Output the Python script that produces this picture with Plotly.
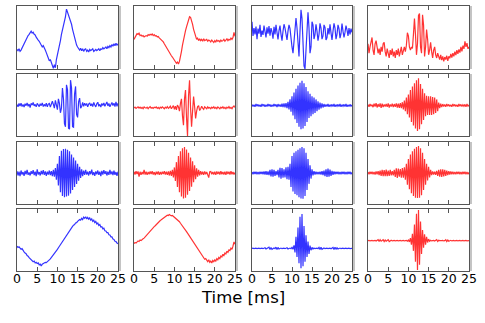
import plotly.graph_objects as go
from plotly.subplots import make_subplots

# sampling of every trace (ms)
T_START = 0.0
T_STEP = 0.25
TICKS = [0, 5, 10, 15, 20, 25]
TICK_TEXT = ["0", "5", "10", "15", "20", "25"]

# traces, amplitude normalised to the panel height (-1 bottom, 1 top)
wave_r1c1 = [-0.38, -0.42, -0.36, -0.44, -0.40, -0.33, -0.26, -0.20, -0.14, -0.08, -0.02, 0.06,
             0.10, 0.16, 0.20, 0.14, 0.17, 0.10, 0.08, 0.01, -0.02, -0.08, -0.12, -0.20,
             -0.22, -0.30, -0.26, -0.36, -0.40, -0.48, -0.58, -0.66, -0.74, -0.70, -0.80, -0.90,
             -0.98, -0.86, -0.96, -0.70, -0.56, -0.44, -0.30, -0.10, 0.10, 0.24, 0.34, 0.50,
             0.66, 0.90, 0.80, 0.70, 0.64, 0.54, 0.42, 0.26, 0.12, -0.02, -0.14, -0.24,
             -0.30, -0.36, -0.40, -0.34, -0.42, -0.36, -0.44, -0.38, -0.36, -0.44, -0.40, -0.46,
             -0.38, -0.42, -0.40, -0.36, -0.44, -0.40, -0.38, -0.42, -0.40, -0.36, -0.42, -0.36,
             -0.38, -0.32, -0.36, -0.34, -0.30, -0.36, -0.28, -0.32, -0.26, -0.30, -0.22, -0.28,
             -0.20, -0.26, -0.18, -0.24, -0.20]
wave_r1c2 = [-0.06, 0.02, 0.08, 0.12, 0.10, 0.14, 0.06, 0.08, 0.04, 0.06, 0.02, 0.05,
             0.06, 0.04, 0.09, 0.07, 0.10, 0.08, 0.11, 0.06, 0.09, 0.05, 0.06, 0.02,
             0.03, -0.01, -0.04, -0.07, -0.10, -0.14, -0.20, -0.26, -0.30, -0.36, -0.42, -0.48,
             -0.52, -0.58, -0.62, -0.68, -0.72, -0.78, -0.82, -0.78, -0.84, -0.76, -0.64, -0.44,
             -0.24, -0.06, 0.10, 0.22, 0.34, 0.48, 0.60, 0.66, 0.64, 0.56, 0.42, 0.26,
             0.12, 0.00, -0.06, -0.02, -0.10, -0.04, -0.10, -0.06, -0.12, -0.04, -0.10, -0.08,
             -0.06, -0.12, -0.08, -0.10, -0.14, -0.08, -0.12, -0.16, -0.10, -0.14, -0.08, -0.12,
             -0.10, -0.14, -0.08, -0.12, -0.10, -0.06, -0.12, -0.08, -0.04, -0.10, -0.06, -0.08,
             -0.02, -0.06, 0.00, 0.16, 0.04]
wave_r1c3 = [0.50, 0.05, 0.30, 0.10, 0.35, -0.05, 0.28, 0.12, 0.40, 0.02, 0.22, 0.08,
             0.38, 0.15, 0.00, 0.32, 0.12, 0.36, 0.06, 0.30, 0.18, -0.04, 0.34, 0.10,
             0.40, 0.16, -0.06, 0.22, 0.38, 0.10, -0.10, 0.20, 0.42, 0.30, 0.02, -0.08,
             0.20, 0.40, 0.28, -0.10, -0.30, -0.50, -0.20, 0.30, 0.62, 0.30, -0.30, -0.60,
             0.20, 0.88, 0.60, -0.40, -0.90, -1.00, -0.20, 0.55, 0.80, 0.30, -0.50, -0.30,
             0.50, 0.40, -0.05, 0.10, 0.42, 0.20, -0.10, 0.10, 0.45, 0.30, -0.05, 0.05,
             0.40, 0.32, -0.08, 0.00, 0.30, 0.10, 0.42, 0.15, -0.08, 0.20, 0.45, 0.30,
             -0.05, 0.10, 0.40, 0.28, -0.02, 0.12, 0.44, 0.20, 0.00, 0.16, 0.38, 0.24,
             0.05, 0.30, 0.10, 0.28, 0.16]
wave_r1c4 = [-0.20, -0.50, -0.30, -0.10, 0.00, -0.40, -0.55, -0.20, -0.10, -0.30, -0.50, -0.35,
             -0.55, -0.30, -0.45, -0.20, -0.15, -0.45, -0.60, -0.35, -0.50, -0.65, -0.40, -0.55,
             -0.35, -0.60, -0.45, -0.65, -0.40, -0.55, -0.35, -0.60, -0.45, -0.30, -0.55, -0.35,
             -0.30, -0.45, -0.25, 0.15, 0.05, -0.30, -0.40, -0.30, -0.35, 0.10, 0.60, 0.10,
             -0.55, -0.20, 0.70, 0.76, -0.30, -0.50, 0.72, 0.40, -0.60, -0.30, 0.25, -0.05,
             -0.55, -0.40, -0.15, -0.45, -0.65, -0.40, -0.30, -0.55, -0.65, -0.50, -0.60, -0.70,
             -0.55, -0.72, -0.60, -0.76, -0.62, -0.70, -0.58, -0.74, -0.60, -0.66, -0.52, -0.64,
             -0.50, -0.60, -0.45, -0.56, -0.40, -0.52, -0.38, -0.48, -0.30, -0.44, -0.26, -0.36,
             -0.12, -0.30, -0.18, -0.36, -0.30]

wave_r2c1 = [0.02, -0.06, 0.05, -0.03, 0.06, -0.05, 0.02, -0.07, 0.04, -0.02, 0.07, -0.04,
             0.03, -0.08, 0.05, 0.00, 0.08, -0.03, 0.02, -0.06, 0.05, 0.01, -0.05, 0.04,
             -0.02, 0.07, -0.05, 0.02, -0.04, 0.06, -0.06, 0.03, 0.05, -0.07, 0.02, 0.12,
             0.02, -0.10, 0.15, -0.05, -0.15, 0.20, 0.05, -0.25, -0.10, 0.55, 0.20, -0.60,
             -0.70, 0.65, 0.50, -0.75, -0.78, 0.80, 0.55, -0.70, -0.72, 0.35, 0.60, -0.30,
             -0.40, 0.10, 0.22, -0.10, -0.05, 0.08, -0.04, 0.06, -0.02, 0.05, -0.06, 0.03,
             0.07, -0.03, 0.04, -0.05, 0.08, 0.00, -0.06, 0.04, 0.09, -0.04, 0.02, -0.07,
             0.05, -0.02, 0.07, -0.04, 0.03, 0.10, -0.03, 0.05, -0.06, 0.02, 0.08, -0.02,
             0.06, -0.05, 0.10, -0.04, 0.06]
wave_r2c2 = [-0.10, -0.07, -0.11, -0.08, -0.06, -0.10, -0.07, -0.11, -0.08, -0.12, -0.06, -0.09,
             -0.10, -0.07, -0.12, -0.08, -0.05, -0.10, -0.08, -0.11, -0.07, -0.09, -0.06, -0.11,
             -0.08, -0.12, -0.07, -0.10, -0.06, -0.09, -0.12, -0.07, -0.10, -0.05, -0.11, -0.08,
             -0.04, -0.12, -0.06, -0.02, -0.14, -0.04, -0.16, 0.00, -0.06, -0.20, 0.05, 0.20,
             -0.35, -0.65, 0.20, 0.48, -0.40, -1.00, 0.30, 0.80, -0.10, -0.70, -0.20, 0.27,
             -0.05, -0.43, -0.20, -0.05, -0.02, -0.18, -0.12, -0.04, -0.10, -0.14, -0.06, -0.10,
             -0.12, -0.06, -0.10, -0.08, -0.12, -0.07, -0.10, -0.06, -0.11, -0.08, -0.12, -0.06,
             -0.09, -0.12, -0.07, -0.10, -0.06, -0.11, -0.08, -0.12, -0.07, -0.10, -0.05, -0.11,
             -0.08, -0.12, -0.06, -0.03, -0.08]
wave_r2c3 = [0.02, -0.05, 0.01, -0.06, 0.03, -0.04, 0.02, -0.05, 0.01, -0.06, 0.03, -0.03,
             0.02, -0.06, 0.01, -0.05, 0.03, -0.04, 0.02, -0.06, 0.01, -0.05, 0.03, -0.04,
             0.02, -0.07, 0.03, -0.05, 0.02, -0.06, 0.04, -0.07, 0.05, -0.08, 0.06, -0.10,
             0.10, -0.14, 0.18, -0.22, 0.28, -0.34, 0.40, -0.46, 0.52, -0.58, 0.63, -0.70,
             0.72, -0.78, 0.78, -0.76, 0.70, -0.68, 0.58, -0.55, 0.44, -0.42, 0.36, -0.36,
             0.28, -0.30, 0.24, -0.26, 0.18, -0.20, 0.12, -0.15, 0.08, -0.11, 0.05, -0.08,
             0.03, -0.06, 0.02, -0.05, 0.03, -0.06, 0.01, -0.04, 0.02, -0.05, 0.03, -0.06,
             0.01, -0.04, 0.02, -0.05, 0.03, -0.06, 0.01, -0.04, 0.02, -0.05, 0.03, -0.06,
             0.01, -0.05, 0.02, -0.04, 0.00]
wave_r2c4 = [0.02, -0.06, 0.03, -0.04, 0.01, -0.07, 0.04, -0.05, 0.06, -0.08, 0.03, -0.06,
             0.05, -0.09, 0.04, -0.07, 0.02, -0.05, 0.03, -0.06, 0.05, -0.08, 0.02, -0.05,
             0.04, -0.07, 0.03, -0.06, 0.05, -0.08, 0.04, -0.09, 0.06, -0.10, 0.09, -0.14,
             0.14, -0.20, 0.24, -0.30, 0.34, -0.40, 0.48, -0.55, 0.60, -0.66, 0.70, -0.76,
             0.80, -0.84, 0.86, -0.78, 0.68, -0.62, 0.52, -0.48, 0.38, -0.36, 0.30, -0.32,
             0.28, -0.32, 0.28, -0.32, 0.26, -0.30, 0.24, -0.26, 0.18, -0.20, 0.08, -0.10,
             0.04, -0.07, 0.03, -0.05, 0.02, -0.06, 0.03, -0.04, 0.02, -0.05, 0.01, -0.06,
             0.03, -0.04, 0.02, -0.05, 0.01, -0.06, 0.03, -0.04, 0.02, -0.05, 0.01, -0.04,
             0.02, -0.06, 0.03, -0.04, 0.00]

wave_r3c1 = [0.06, -0.08, 0.04, -0.10, 0.08, -0.05, 0.03, -0.09, 0.07, -0.04, 0.10, -0.06,
             0.02, -0.08, 0.06, -0.03, 0.09, -0.07, 0.04, -0.10, 0.12, -0.05, 0.03, -0.08,
             0.07, -0.04, 0.09, -0.06, 0.05, -0.09, 0.04, -0.05, 0.08, -0.07, 0.06, -0.10,
             0.10, -0.12, 0.16, -0.22, 0.30, -0.40, 0.55, -0.62, 0.72, -0.74, 0.77, -0.78,
             0.78, -0.76, 0.75, -0.73, 0.70, -0.66, 0.60, -0.55, 0.50, -0.45, 0.40, -0.35,
             0.30, -0.25, 0.20, -0.16, 0.12, -0.10, 0.08, -0.06, 0.10, -0.05, 0.04, -0.08,
             0.06, -0.04, 0.11, -0.07, 0.03, -0.09, 0.05, -0.04, 0.08, -0.06, 0.04, -0.10,
             0.07, -0.05, 0.09, -0.03, 0.06, -0.08, 0.04, -0.06, 0.10, -0.04, 0.05, -0.07,
             0.08, -0.06, 0.03, -0.09, 0.04]
wave_r3c2 = [0.04, -0.05, 0.06, -0.03, 0.05, -0.12, 0.04, -0.06, 0.03, -0.04, 0.10, -0.05,
             0.04, -0.06, 0.03, -0.04, 0.05, -0.03, 0.06, -0.05, 0.03, -0.07, 0.04, -0.04,
             0.05, -0.06, 0.03, -0.05, 0.04, -0.03, 0.06, -0.05, 0.04, -0.06, 0.05, -0.08,
             0.07, -0.09, 0.10, -0.14, 0.18, -0.26, 0.35, -0.45, 0.55, -0.62, 0.70, -0.76,
             0.80, -0.82, 0.84, -0.80, 0.76, -0.70, 0.65, -0.58, 0.50, -0.44, 0.38, -0.30,
             0.25, -0.20, 0.15, -0.12, 0.10, -0.08, 0.06, -0.05, 0.04, -0.06, 0.05, -0.04,
             0.03, -0.06, -0.15, 0.04, 0.05, -0.04, 0.03, -0.05, 0.04, -0.06, 0.05, -0.03,
             0.04, -0.05, 0.06, -0.04, 0.03, -0.05, 0.04, -0.06, 0.05, -0.03, 0.04, -0.05,
             0.06, -0.04, 0.03, -0.05, 0.02]
wave_r3c3 = [0.03, -0.04, 0.04, -0.03, 0.04, -0.04, 0.03, -0.04, 0.04, -0.03, 0.04, -0.04,
             0.05, -0.05, 0.06, -0.06, 0.05, -0.07, 0.10, -0.11, 0.12, -0.12, 0.10, -0.09,
             0.06, -0.07, 0.10, -0.14, 0.17, -0.18, 0.16, -0.15, 0.12, -0.14, 0.18, -0.20,
             0.20, -0.22, 0.30, -0.45, 0.55, -0.60, 0.65, -0.68, 0.70, -0.72, 0.75, -0.78,
             0.80, -0.82, 0.84, -0.83, 0.80, -0.74, 0.65, -0.55, 0.45, -0.35, 0.25, -0.18,
             0.12, -0.08, 0.06, -0.05, 0.04, -0.04, 0.03, -0.04, 0.04, -0.05, 0.06, -0.07,
             0.08, -0.10, 0.12, -0.13, 0.14, -0.12, 0.11, -0.09, 0.07, -0.06, 0.05, -0.04,
             0.04, -0.03, 0.04, -0.04, 0.03, -0.04, 0.04, -0.03, 0.04, -0.04, 0.03, -0.04,
             0.04, -0.03, 0.04, -0.04, 0.02]
wave_r3c4 = [0.03, -0.04, 0.04, -0.03, 0.04, -0.04, 0.03, -0.05, 0.05, -0.04, 0.06, -0.07,
             0.08, -0.09, 0.10, -0.10, 0.09, -0.10, 0.11, -0.10, 0.08, -0.09, 0.10, -0.08,
             0.06, -0.08, 0.10, -0.13, 0.15, -0.16, 0.14, -0.12, 0.13, -0.15, 0.16, -0.15,
             0.18, -0.22, 0.30, -0.38, 0.45, -0.52, 0.60, -0.65, 0.70, -0.74, 0.78, -0.80,
             0.84, -0.81, 0.87, -0.80, 0.80, -0.72, 0.65, -0.55, 0.45, -0.38, 0.30, -0.24,
             0.20, -0.14, 0.10, -0.07, 0.05, -0.05, 0.04, -0.06, 0.07, -0.09, 0.10, -0.12,
             0.12, -0.13, 0.12, -0.11, 0.10, -0.09, 0.08, -0.07, 0.06, -0.05, 0.05, -0.04,
             0.04, -0.04, 0.03, -0.04, 0.04, -0.03, 0.04, -0.04, 0.03, -0.04, 0.04, -0.03,
             0.04, -0.04, 0.03, -0.04, 0.02]

wave_r4c1 = [-0.20, -0.24, -0.22, -0.28, -0.30, -0.28, -0.35, -0.38, -0.42, -0.44, -0.50, -0.52,
             -0.57, -0.60, -0.64, -0.66, -0.70, -0.68, -0.74, -0.72, -0.76, -0.74, -0.80, -0.78,
             -0.84, -0.78, -0.76, -0.74, -0.72, -0.73, -0.69, -0.68, -0.64, -0.61, -0.57, -0.53,
             -0.48, -0.44, -0.40, -0.35, -0.30, -0.25, -0.20, -0.15, -0.09, -0.04, 0.02, 0.07,
             0.13, 0.17, 0.22, 0.27, 0.32, 0.36, 0.40, 0.44, 0.48, 0.50, 0.55, 0.56,
             0.60, 0.62, 0.66, 0.64, 0.70, 0.66, 0.74, 0.70, 0.75, 0.68, 0.73, 0.67,
             0.71, 0.64, 0.68, 0.60, 0.64, 0.56, 0.60, 0.52, 0.55, 0.47, 0.50, 0.42,
             0.43, 0.36, 0.38, 0.30, 0.29, 0.24, 0.24, 0.17, 0.16, 0.10, 0.10, 0.03,
             0.02, -0.04, -0.05, -0.10, -0.12]
wave_r4c2 = [-0.12, -0.08, -0.10, -0.04, -0.03, -0.05, 0.00, -0.02, 0.02, 0.04, 0.06, 0.10,
             0.13, 0.16, 0.20, 0.23, 0.27, 0.31, 0.35, 0.39, 0.43, 0.46, 0.50, 0.53,
             0.56, 0.59, 0.63, 0.65, 0.68, 0.71, 0.73, 0.76, 0.77, 0.80, 0.79, 0.82,
             0.80, 0.78, 0.79, 0.76, 0.75, 0.72, 0.70, 0.66, 0.63, 0.59, 0.54, 0.50,
             0.45, 0.40, 0.36, 0.31, 0.27, 0.22, 0.17, 0.11, 0.05, 0.00, -0.05, -0.10,
             -0.16, -0.21, -0.25, -0.30, -0.34, -0.40, -0.44, -0.50, -0.54, -0.58, -0.62, -0.60,
             -0.66, -0.70, -0.64, -0.72, -0.68, -0.74, -0.66, -0.70, -0.64, -0.68, -0.60, -0.64,
             -0.56, -0.60, -0.52, -0.55, -0.46, -0.50, -0.42, -0.45, -0.36, -0.40, -0.32, -0.34,
             -0.26, -0.30, -0.20, -0.06, -0.14]
wave_r4c3 = [-0.27, -0.26, -0.28, -0.27, -0.26, -0.28, -0.27, -0.26, -0.28, -0.27, -0.26, -0.28,
             -0.27, -0.25, -0.29, -0.27, -0.26, -0.23, -0.31, -0.24, -0.30, -0.27, -0.26, -0.28,
             -0.23, -0.31, -0.24, -0.29, -0.27, -0.26, -0.28, -0.27, -0.26, -0.28, -0.27, -0.25,
             -0.29, -0.27, -0.26, -0.28, -0.24, -0.30, -0.17, -0.40, 0.10, -0.55, 0.40, -0.75,
             0.75, -0.91, 0.84, -0.85, 0.45, -0.70, 0.15, -0.55, -0.05, -0.45, -0.18, -0.33,
             -0.24, -0.29, -0.26, -0.28, -0.27, -0.26, -0.28, -0.24, -0.31, -0.23, -0.30, -0.27,
             -0.26, -0.28, -0.27, -0.26, -0.28, -0.27, -0.26, -0.28, -0.26, -0.24, -0.31, -0.23,
             -0.30, -0.25, -0.29, -0.27, -0.26, -0.28, -0.27, -0.26, -0.28, -0.27, -0.26, -0.28,
             -0.27, -0.26, -0.28, -0.27, -0.27]
wave_r4c4 = [-0.02, -0.01, -0.03, -0.02, -0.01, -0.03, -0.02, -0.01, -0.03, -0.02, 0.01, -0.05,
             0.01, -0.04, -0.02, 0.01, -0.05, 0.00, -0.04, -0.02, 0.01, -0.05, -0.02, -0.01,
             -0.03, -0.02, -0.01, -0.03, -0.02, -0.01, -0.03, -0.02, -0.01, -0.03, -0.02, -0.01,
             -0.03, -0.02, -0.01, -0.04, 0.00, -0.06, 0.06, -0.15, 0.20, -0.35, 0.50, -0.70,
             0.85, -0.97, 0.97, -0.80, 0.60, -0.45, 0.32, -0.25, 0.18, -0.15, 0.10, -0.08,
             0.03, -0.04, -0.01, -0.03, -0.02, -0.01, -0.03, -0.02, 0.01, -0.05, -0.01, -0.02,
             -0.03, -0.02, -0.01, -0.03, -0.02, 0.01, -0.05, 0.00, -0.04, -0.02, -0.01, -0.03,
             -0.02, -0.01, -0.03, -0.02, -0.01, -0.03, -0.02, -0.01, -0.03, -0.02, -0.01, -0.03,
             -0.02, -0.01, -0.03, -0.02, -0.02]

waves = [
  [wave_r1c1, wave_r1c2, wave_r1c3, wave_r1c4],
  [wave_r2c1, wave_r2c2, wave_r2c3, wave_r2c4],
  [wave_r3c1, wave_r3c2, wave_r3c3, wave_r3c4],
  [wave_r4c1, wave_r4c2, wave_r4c3, wave_r4c4],
]
colors = ["rgba(0,0,255,0.8)", "rgba(255,0,0,0.8)", "rgba(0,0,255,0.8)", "rgba(255,0,0,0.8)"]

W, H = 485, 323
# panel edges in pixels
col_px = [(17, 118), (134, 235), (252, 352), (368, 469)]
row_px = [(6, 69), (74, 136), (142, 204), (209, 271)]

fig = make_subplots(rows=4, cols=4)

for r in range(4):
  for c in range(4):
    fig.add_trace(
      go.Scatter(x0=T_START, dx=T_STEP, y=waves[r][c], mode="lines",
                 line=dict(color=colors[c], width=1.2), showlegend=False,
                 hoverinfo="skip"),
      row=r + 1, col=c + 1,
    )
    n = r * 4 + c + 1
    sfx = "" if n == 1 else str(n)
    fig.layout["xaxis" + sfx].update(
      domain=[col_px[c][0] / W, col_px[c][1] / W],
      range=[0, 25], tickvals=TICKS, ticktext=TICK_TEXT,
      ticks="inside", ticklen=4, tickcolor="#555", mirror="allticks",
      showline=True, linecolor="#555", linewidth=1, automargin=False,
      showgrid=False, zeroline=False, showticklabels=(r == 3),
      ticklabelstandoff=-4,
      tickfont=dict(family="DejaVu Sans", size=12.5, color="black"),
    )
    fig.layout["yaxis" + sfx].update(
      domain=[1 - row_px[r][1] / H, 1 - row_px[r][0] / H],
      range=[-1, 1], showticklabels=False, ticks="", automargin=False,
      showline=True, linecolor="#555", linewidth=1, mirror=True,
      showgrid=False, zeroline=False,
    )
    # light shadow on the right edge of each panel
    fig.add_shape(type="rect", xref="x" + sfx + " domain", yref="y" + sfx + " domain",
                  xsizemode="pixel", xanchor=1, x0=1, x1=3, y0=0, y1=1,
                  fillcolor="#c4c4c4", line_width=0, layer="below")

fig.add_annotation(text="Time [ms]", xref="paper", yref="paper",
                   x=243 / W, y=1 - 297 / H, xanchor="center", yanchor="middle",
                   showarrow=False,
                   font=dict(family="DejaVu Sans", size=16.5, color="black"))

fig.update_layout(width=W, height=H, margin=dict(l=0, r=0, t=0, b=0, autoexpand=False),
                  paper_bgcolor="white", plot_bgcolor="white")

# drop the default page margin so the figure sits at the window corner
fig.write_html("out.html", config={"displayModeBar": False},
               post_script="document.body.style.margin='0';")
